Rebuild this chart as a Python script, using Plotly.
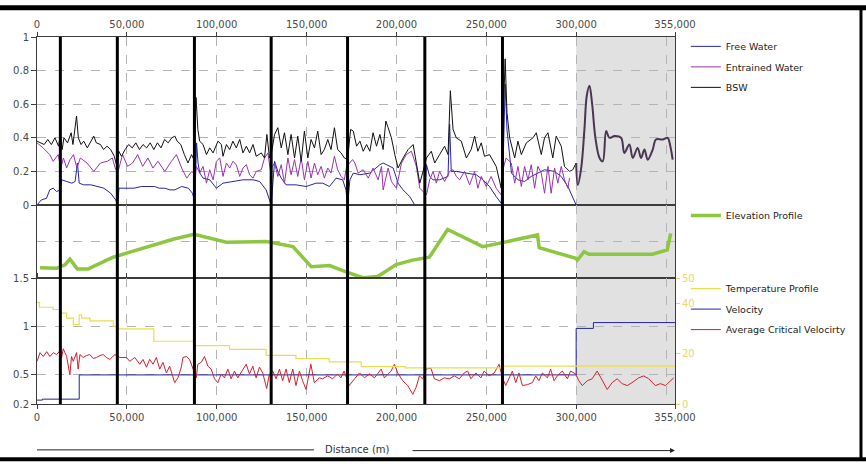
import plotly.graph_objects as go

# ---------------- data (distance in m) ----------------
free_water = [(0,0.00),(2400,0.03),(5300,0.04),(7100,0.09),(9000,0.10),(10900,0.08),(12800,0.09),(13700,0.15),
    (16500,0.14),(19400,0.13),(21200,0.14),(22500,0.25),(23500,0.13),(25900,0.12),(30000,0.12),(33500,0.11),
    (37200,0.10),(41000,0.07),(43800,0.03),(44900,0.00),(45600,0.10),(50000,0.10),(54000,0.10),(58000,0.11),
    (61700,0.11),(65500,0.11),(68000,0.10),(71100,0.10),(74000,0.09),(76700,0.09),(80500,0.11),(84200,0.10),
    (86500,0.07),(87800,0.02),(88800,0.37),(89600,0.25),(90600,0.19),(92400,0.16),(96100,0.15),(99800,0.10),
    (103500,0.13),(109000,0.14),(114600,0.15),(120200,0.15),(123900,0.14),(127500,0.09),(129400,0.03),(130300,0.00),
    (132200,0.26),(134000,0.20),(135900,0.16),(138600,0.12),(144200,0.12),(149700,0.11),(155300,0.13),(159000,0.13),
    (162700,0.11),(166400,0.16),(170100,0.15),(171900,0.09),(172800,0.00),(174100,0.15),(176000,0.19),(179700,0.18),
    (185200,0.19),(190800,0.24),(192600,0.25),(194500,0.24),(198200,0.22),(200900,0.13),(203700,0.09),(207400,0.05),
    (210200,0.00),(215600,0.00),(216700,0.24),(218500,0.17),(220400,0.15),(224000,0.15),(228700,0.17),(229600,0.48),
    (230500,0.20),(233300,0.20),(238900,0.19),(244400,0.18),(248100,0.15),(251800,0.11),(255500,0.05),(258300,0.01),
    (259500,0.30),(260500,0.72),(261500,0.45),(263000,0.30),(264000,0.19),(267600,0.15),(271300,0.14),(275000,0.17),
    (278700,0.19),(282400,0.21),(287900,0.20),(291700,0.17),(295400,0.11),(298100,0.04),(300000,0.00)]

entrained_water = [(0,0.37),(3400,0.34),(7100,0.30),(9000,0.26),(11800,0.30),(13200,0.22),(14700,0.28),(16500,0.22),
    (18400,0.27),(20300,0.30),(22200,0.22),(24100,0.28),(27800,0.25),(31600,0.20),(35300,0.25),(39100,0.26),
    (41900,0.28),(43800,0.21),(45100,0.20),(47600,0.30),(50400,0.23),(53200,0.25),(56000,0.30),(58800,0.23),
    (61700,0.28),(64500,0.22),(67300,0.26),(71100,0.20),(74800,0.26),(77600,0.30),(80500,0.22),(83300,0.16),
    (86100,0.20),(88000,0.18),(88700,0.23),(90500,0.19),(92400,0.23),(94300,0.13),(96100,0.21),(98000,0.15),
    (99800,0.26),(101700,0.28),(103500,0.17),(105400,0.25),(107200,0.22),(109000,0.26),(110900,0.24),(112800,0.17),
    (114600,0.22),(116500,0.24),(118300,0.18),(120200,0.16),(122000,0.20),(124800,0.21),(126600,0.28),(128500,0.31),
    (129800,0.21),(132200,0.25),(134000,0.17),(135900,0.24),(137700,0.13),(139600,0.28),(141400,0.18),(143300,0.27),
    (145100,0.17),(147000,0.28),(148800,0.15),(150700,0.26),(152500,0.16),(154400,0.25),(156200,0.18),(158100,0.23),
    (159900,0.16),(161800,0.22),(163600,0.19),(165500,0.29),(167300,0.21),(169200,0.17),(171000,0.15),(172300,0.23),
    (175600,0.27),(176900,0.25),(178700,0.19),(181500,0.21),(184300,0.16),(187000,0.22),(189800,0.15),(191700,0.23),
    (192600,0.09),(195400,0.22),(197200,0.14),(200000,0.10),(202800,0.25),(205500,0.30),(208300,0.32),(211100,0.23),
    (213000,0.10),(214800,0.08),(216700,0.06),(218500,0.15),(220400,0.20),(222200,0.13),(224000,0.20),(226800,0.14),
    (229600,0.20),(231500,0.21),(233300,0.17),(235200,0.15),(237900,0.20),(240700,0.12),(243500,0.20),(245300,0.10),
    (247200,0.17),(250000,0.11),(252700,0.17),(255500,0.10),(258300,0.06),(259500,0.22),(261000,0.28),(263900,0.25),
    (265800,0.13),(267600,0.23),(269500,0.11),(271300,0.23),(273200,0.15),(275000,0.24),(276900,0.10),(278700,0.23),
    (280600,0.19),(282400,0.07),(284300,0.23),(286100,0.07),(288000,0.22),(289800,0.13),(291700,0.23),(293500,0.15),
    (295400,0.10),(296300,0.16)]

bsw = [(0,0.38),(2000,0.37),(4000,0.36),(6000,0.39),(8000,0.36),(10000,0.40),(12000,0.35),(13000,0.42),(14000,0.33),
    (15000,0.40),(17000,0.37),(19000,0.43),(20000,0.36),(22000,0.53),(23000,0.40),(24500,0.36),(26000,0.38),(28000,0.34),
    (30000,0.38),(31600,0.41),(33000,0.37),(35300,0.36),(37000,0.33),(39000,0.35),(41000,0.33),(43000,0.29),(44700,0.22),
    (45500,0.32),(47000,0.29),(49000,0.33),(51000,0.36),(53000,0.34),(55000,0.37),(57000,0.33),(59000,0.36),(61000,0.34),
    (63000,0.37),(65000,0.33),(67000,0.37),(69000,0.34),(71000,0.39),(73000,0.37),(75000,0.40),(76700,0.41),(78000,0.38),
    (80000,0.36),(82000,0.30),(84000,0.25),(86000,0.30),(87300,0.27),(88500,0.64),(89500,0.45),(90500,0.38),(92400,0.36),
    (94300,0.30),(96100,0.34),(98000,0.31),(100700,0.38),(102600,0.36),(103500,0.29),(105400,0.36),(107200,0.33),
    (109000,0.38),(110900,0.34),(112800,0.39),(114600,0.31),(116500,0.35),(118300,0.31),(120200,0.36),(122000,0.29),
    (124800,0.31),(126600,0.28),(127900,0.42),(129400,0.28),(130300,0.30),(132200,0.42),(134000,0.46),(135900,0.34),
    (137700,0.43),(139600,0.30),(141400,0.42),(143300,0.28),(145100,0.41),(147000,0.26),(148800,0.44),(150700,0.28),
    (152500,0.39),(154400,0.34),(156200,0.44),(158100,0.30),(159900,0.33),(161800,0.39),(163600,0.33),(165500,0.46),
    (167300,0.33),(169200,0.31),(171000,0.28),(172800,0.27),(174500,0.45),(176000,0.44),(177800,0.35),(179700,0.38),
    (181500,0.32),(183400,0.36),(185200,0.32),(187000,0.43),(188900,0.35),(190800,0.42),(192600,0.33),(194100,0.50),
    (195400,0.46),(197200,0.40),(199100,0.30),(200900,0.22),(203700,0.28),(206500,0.33),(209300,0.36),(211100,0.25),
    (213000,0.13),(214800,0.20),(216700,0.28),(219400,0.32),(221300,0.25),(224000,0.30),(226800,0.35),(228700,0.30),
    (230000,0.68),(231500,0.45),(233300,0.40),(236100,0.38),(238900,0.28),(241600,0.33),(243500,0.41),(245300,0.32),
    (247200,0.37),(249000,0.29),(251800,0.30),(255500,0.23),(258300,0.10),(259500,0.55),(260500,0.87),(261500,0.55),
    (263000,0.40),(265800,0.28),(267600,0.38),(269500,0.30),(272300,0.37),(276000,0.40),(277800,0.43),(280600,0.30),
    (282400,0.40),(284300,0.43),(287000,0.28),(288900,0.41),(291700,0.35),(293500,0.23),(296300,0.20),(298100,0.21),
    (300000,0.25)]

bsw_extrapolated = [(300000,0.25),(300900,0.12),(302800,0.22),(304600,0.45),(305900,0.65),(307400,0.71),(308900,0.60),
    (310700,0.40),(313000,0.28),(314800,0.26),(316700,0.44),(318500,0.40),(321300,0.41),(325000,0.40),(326800,0.31),
    (329600,0.36),(331500,0.28),(334200,0.34),(336100,0.28),(338000,0.33),(339800,0.27),(342600,0.33),(344400,0.39),
    (348100,0.39),(350900,0.40),(352400,0.35),(353700,0.27)]

elevation = [(1700,28),(10900,26.5),(15600,36),(18300,52),(22400,25),(28500,25),(35000,40),(42400,57),(49800,68),
    (62800,88),(75700,106),(87400,120),(98000,107),(105400,98),(127600,100),(142400,86),(152600,31),(162800,34),
    (172000,17),(181300,1),(189600,4),(199800,37),(209000,49),(218300,57),(228500,133),(248000,86),(259000,97),
    (278500,118),(279400,83),(299800,54),(300700,49),(304400,72),(307200,65),(342400,65),(350700,77),(352600,122)]

temperature = [(0,40.3),(1300,38.4),(9000,37.5),(12800,36.1),(16500,34.1),(20200,31.5),(23500,35.4),(24800,34.1),
    (29400,33.0),(42400,30.8),(44600,29.8),(65000,24.9),(87700,23.2),(107100,21.7),(127500,19.3),(144100,18.0),
    (162600,16.7),(180400,14.8),(205000,14.3),(258000,15.0),(355000,15.0)]

velocity = [(0,0.24),(3000,0.25),(23500,0.50),(300000,0.98),(309600,1.04),(355000,1.04)]

critical_velocity = [(0,0.64),(1700,0.73),(3500,0.69),(5400,0.74),(7200,0.69),(9100,0.73),(10900,0.71),(12800,0.75),
    (13700,0.68),(14600,0.77),(16500,0.69),(18300,0.50),(19200,0.69),(20200,0.64),(22000,0.73),(22900,0.56),(23900,0.71),
    (25700,0.68),(27500,0.70),(29400,0.71),(31200,0.67),(33100,0.68),(35000,0.70),(36800,0.71),(38600,0.68),(40500,0.66),
    (43300,0.71),(46100,0.68),(49800,0.68),(51600,0.64),(54400,0.68),(57200,0.61),(59000,0.66),(60900,0.58),(62700,0.66),
    (64600,0.61),(66400,0.68),(68300,0.56),(70100,0.63),(72000,0.52),(73800,0.59),(76600,0.42),(78400,0.47),(80300,0.58),
    (81200,0.68),(83100,0.69),(84900,0.66),(86800,0.56),(88600,0.47),(89500,0.61),(91400,0.63),(93200,0.69),(95100,0.59),
    (96900,0.56),(98800,0.46),(100600,0.42),(102500,0.51),(104300,0.47),(106200,0.56),(108000,0.46),(109900,0.54),
    (111700,0.47),(114500,0.56),(116400,0.61),(118200,0.51),(120100,0.59),(121900,0.47),(123800,0.58),(125600,0.52),
    (127800,0.36),(129300,0.51),(131200,0.54),(133000,0.46),(134900,0.56),(136700,0.44),(138600,0.56),(140400,0.42),
    (142300,0.56),(144100,0.39),(146000,0.54),(147800,0.44),(149700,0.35),(152400,0.61),(154300,0.42),(157100,0.47),
    (158900,0.46),(161700,0.49),(164500,0.46),(167200,0.51),(169100,0.47),(170900,0.54),(173700,0.39),(176700,0.46),
    (179500,0.52),(182200,0.47),(185000,0.51),(187800,0.47),(189600,0.52),(191500,0.56),(193300,0.47),(195200,0.51),
    (197000,0.54),(198900,0.61),(200700,0.52),(203500,0.44),(206300,0.39),(209100,0.30),(210900,0.37),(212800,0.49),
    (214600,0.46),(216500,0.56),(219200,0.57),(221100,0.46),(223900,0.44),(226600,0.47),(229400,0.46),(232200,0.49),
    (235000,0.46),(237700,0.52),(239600,0.54),(241400,0.46),(244200,0.52),(247000,0.47),(248800,0.54),(251600,0.49),
    (254400,0.52),(257100,0.61),(259000,0.47),(260800,0.39),(262700,0.46),(264500,0.54),(266400,0.42),(268200,0.52),
    (270100,0.39),(272900,0.40),(275600,0.42),(277500,0.49),(279300,0.44),(281200,0.52),(284000,0.47),(285800,0.56),
    (287700,0.44),(289500,0.49),(292300,0.54),(295100,0.46),(296900,0.54),(299700,0.51),(301500,0.44),(303400,0.39),
    (306200,0.44),(308900,0.46),(311700,0.54),(314500,0.44),(317300,0.35),(320000,0.42),(322800,0.46),(325600,0.41),
    (328400,0.39),(331100,0.42),(334800,0.47),(337600,0.49),(340400,0.46),(344100,0.39),(346900,0.41),(349700,0.39),
    (352400,0.44),(354300,0.47)]

segment_boundaries = [13000, 44700, 87600, 130300, 172800, 215800, 259000]
extrapolated_range = [300000, 355000]
x_ticks = [0, 50000, 100000, 150000, 200000, 250000, 300000, 355000]
x_range = [0, 355000]

# ---------------- figure ----------------
def xs(p): return [a for a, b in p]
def ys(p): return [b for a, b in p]

FONT = "DejaVu Sans"
TXT = "#333333"
GRID = "#b4b4b4"
AX = "#3c3c3c"
LEGFONT = dict(family=FONT, size=9.5, color="#222222")

fig = go.Figure()
fig.add_trace(go.Scatter(x=xs(free_water), y=ys(free_water), name="Free Water", mode="lines",
    line=dict(color="#2626a8", width=1), yaxis="y", legend="legend", legendgroup="a"))
fig.add_trace(go.Scatter(x=xs(entrained_water), y=ys(entrained_water), name="Entrained Water", mode="lines",
    line=dict(color="#9a32b0", width=1), yaxis="y", legend="legend", legendgroup="b"))
fig.add_trace(go.Scatter(x=xs(bsw), y=ys(bsw), name="BSW", mode="lines",
    line=dict(color="#111111", width=1), yaxis="y", legend="legend", legendgroup="c"))
fig.add_trace(go.Scatter(x=xs(bsw_extrapolated), y=ys(bsw_extrapolated), name="BSW", mode="lines",
    line=dict(color="#4a3552", width=2, shape="spline"), yaxis="y", showlegend=False))
fig.add_trace(go.Scatter(x=xs(elevation), y=ys(elevation), name="Elevation Profile", mode="lines",
    line=dict(color="#8dc63f", width=3.5), yaxis="y2", legend="legend2"))
fig.add_trace(go.Scatter(x=xs(velocity), y=ys(velocity), name="Velocity", mode="lines",
    line=dict(color="#22229a", width=1, shape="hv"), yaxis="y3", legend="legend3", legendgroup="e", legendrank=2))
fig.add_trace(go.Scatter(x=xs(critical_velocity), y=ys(critical_velocity), name="Average Critical Velocirty", mode="lines",
    line=dict(color="#d42030", width=1), yaxis="y3", legend="legend3", legendgroup="f", legendrank=3))
fig.add_trace(go.Scatter(x=xs(temperature), y=ys(temperature), name="Temperature Profile", mode="lines",
    line=dict(color="#e8de50", width=1.2, shape="hv"), yaxis="y4", legend="legend3", legendgroup="d", legendrank=1))
# carrier for the top distance axis
fig.add_trace(go.Scatter(x=x_range, y=[None, None], xaxis="x2", yaxis="y", showlegend=False, hoverinfo="skip"))

d3 = (404 - 278) / 367
d2 = (404 - 205) / 367

shapes = []
for yr in ["y domain", "y2 domain", "y3 domain"]:
    shapes.append(dict(type="rect", xref="x", yref=yr, x0=extrapolated_range[0], x1=extrapolated_range[1],
                       y0=0, y1=1, fillcolor="#e1e1e1", line=dict(width=0), layer="below"))
for b in segment_boundaries:
    shapes.append(dict(type="line", xref="x", yref="paper", x0=b, x1=b, y0=0, y1=1,
                       line=dict(color="#000000", width=3), layer="above"))
# outer frame & axis title rules
shapes.append(dict(type="line", xref="paper", yref="paper", x0=-0.06, x1=1.30, y0=1.080, y1=1.080,
                   line=dict(color="#000000", width=5)))
shapes.append(dict(type="line", xref="paper", yref="paper", x0=1.2915, x1=1.2915, y0=1.08, y1=-0.152,
                   line=dict(color="#000000", width=3)))
shapes.append(dict(type="line", xref="paper", yref="paper", x0=-0.06, x1=1.30, y0=-0.1505, y1=-0.1505,
                   line=dict(color="#000000", width=4)))
shapes.append(dict(type="line", xref="paper", yref="paper", x0=0, x1=0.434, y0=-0.125, y1=-0.125,
                   line=dict(color="#222222", width=1)))

annotations = [
    dict(text="Distance (m)", xref="paper", yref="paper", x=0.502, y=-0.125, showarrow=False,
         font=dict(family=FONT, size=10, color=TXT), xanchor="center", yanchor="middle"),
    dict(text="", xref="x", yref="paper", x=x_range[1], y=-0.127, ax=-264, ay=0, axref="pixel", ayref="pixel",
         showarrow=True, arrowhead=2, arrowsize=1, arrowwidth=1, arrowcolor="#222222"),
]

tickfont = dict(family=FONT, size=10, color="#4a4a4a")
common_x = dict(range=x_range, tickvals=x_ticks, ticktext=[f"{v:,}" for v in x_ticks], automargin=False,
                tickfont=tickfont, ticks="outside", ticklen=4, tickcolor=AX)

fig.update_layout(
    template="none",
    width=866, height=464, autosize=False,
    margin=dict(l=37, r=191, t=37, b=60, pad=0),
    paper_bgcolor="white", plot_bgcolor="rgba(0,0,0,0)",
    font=dict(family=FONT, size=10, color=TXT),
    xaxis=dict(**common_x, anchor="y3", showgrid=True, gridcolor=GRID, griddash="dash", gridwidth=1,
               showline=True, linecolor=AX, linewidth=1, mirror="all", zeroline=False,
               minor=dict(tickvals=[350000], showgrid=True, gridcolor=GRID, griddash="dash", ticks="")),
    xaxis2=dict(**common_x, anchor="y", side="top", overlaying="x", showgrid=False, showline=False, zeroline=False),
    yaxis=dict(domain=[d2, 1], range=[0, 1], tickvals=[0, 0.2, 0.4, 0.6, 0.8, 1], automargin=False,
               ticktext=["0", "0.2", "0.4", "0.6", "0.8", "1"], tickfont=tickfont, ticks="outside", ticklen=5,
               tickcolor=AX, showgrid=True, gridcolor=GRID, griddash="dash", zeroline=False,
               showline=True, linecolor=AX, linewidth=1, mirror=True),
    yaxis2=dict(domain=[d3, d2], range=[0, 200], tickvals=[100], showticklabels=False, ticks="", automargin=False,
                showgrid=True, gridcolor=GRID, griddash="dash", zeroline=False,
                showline=True, linecolor=AX, linewidth=1, mirror=True),
    yaxis3=dict(domain=[0, d3], range=[0.2, 1.5], tickvals=[0.2, 0.5, 1, 1.5], ticktext=["0.2", "0.5", "1", "1.5"],
                tickfont=tickfont, ticks="outside", ticklen=5, tickcolor=AX, automargin=False,
                showgrid=True, gridcolor=GRID, griddash="dash", zeroline=False,
                showline=True, linecolor=AX, linewidth=1, mirror=True),
    yaxis4=dict(overlaying="y3", side="right", anchor="x", range=[0, 50], tickvals=[0, 20, 40, 50], automargin=False,
                tickfont=dict(family=FONT, size=10, color="#e6d86a"), ticks="outside", ticklen=4,
                tickcolor="#e6d86a", showgrid=False, zeroline=False, showline=False),
    legend=dict(x=1.017, y=1.014, xanchor="left", yanchor="top", bgcolor="rgba(0,0,0,0)", borderwidth=0,
                font=LEGFONT, tracegroupgap=1.5, traceorder="grouped"),
    legend2=dict(x=1.017, y=0.553, xanchor="left", yanchor="top", bgcolor="rgba(0,0,0,0)", borderwidth=0,
                 font=LEGFONT),
    legend3=dict(x=1.017, y=0.354, xanchor="left", yanchor="top", bgcolor="rgba(0,0,0,0)", borderwidth=0,
                 font=LEGFONT, tracegroupgap=1.5, traceorder="grouped"),
    shapes=shapes, annotations=annotations, showlegend=True,
)

# remove the default 8px page margin so the figure sits at the window's origin
fig.write_html("out.html", config={"displayModeBar": False},
               post_script="document.body.style.margin='0';document.body.style.overflow='hidden';")
